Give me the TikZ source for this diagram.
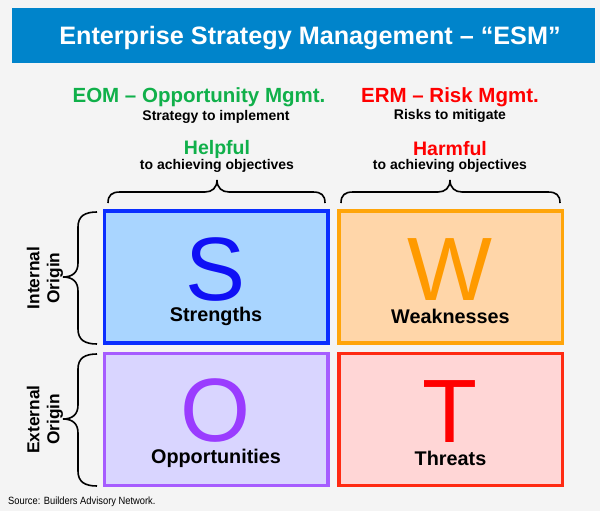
\documentclass[tikz,border=0pt]{standalone}
\usepackage{fontspec}
\setmainfont{Liberation Sans}
\definecolor{bgc}{HTML}{F4F4F4}
\definecolor{titleblue}{HTML}{0084CB}
\definecolor{eomgreen}{HTML}{10B04A}
\definecolor{ermred}{HTML}{FF0000}
\definecolor{sborder}{HTML}{0A2EFF}
\definecolor{sfill}{HTML}{A9D5FF}
\definecolor{sletter}{HTML}{1010F5}
\definecolor{wborder}{HTML}{FFA50A}
\definecolor{wfill}{HTML}{FFD6A9}
\definecolor{wletter}{HTML}{FF9A00}
\definecolor{oborder}{HTML}{A65CFF}
\definecolor{ofill}{HTML}{D9D5FF}
\definecolor{oletter}{HTML}{9A3CFF}
\definecolor{tborder}{HTML}{FF2A12}
\definecolor{tfill}{HTML}{FFD6D6}
\definecolor{tletter}{HTML}{FF0000}
\tikzset{
  quad/.style={line width=3.5pt, minimum width=223.5pt, minimum height=132pt, inner sep=0pt},
  bigletter/.style={font=\fontsize{90}{90}\selectfont, inner sep=0pt, anchor=base, text height=62pt, text depth=0pt},
  quadlabel/.style={font=\fontsize{19.8}{20}\selectfont\bfseries, text=black, inner sep=0pt},
  headline/.style={font=\fontsize{20.5}{22}\selectfont\bfseries, inner sep=0pt},
  subline/.style={font=\fontsize{14}{15}\selectfont\bfseries, text=black, inner sep=0pt},
  helpline/.style={font=\fontsize{19.5}{21}\selectfont\bfseries, inner sep=0pt},
  bracestyle/.style={line width=1.6pt, black},
  sidelabel/.style={font=\fontsize{17.3}{20}\selectfont\bfseries, align=center, rotate=90, inner sep=0pt}
}
\begin{document}
\begin{tikzpicture}[x=1pt,y=-1pt]
\useasboundingbox[fill=bgc] (0,0) rectangle (600,511);
% title bar
\node[fill=titleblue, minimum width=583pt, minimum height=55pt, inner sep=0pt, anchor=north west] (titlebar) at (12,8) {};
\node[text=white, font=\fontsize{25.2}{26}\selectfont\bfseries] (title) at (310,38) {Enterprise Strategy Management – “ESM”};
% headings
\node[headline, text=eomgreen] (eom) at (199,97) {EOM – Opportunity Mgmt.};
\node[subline] (eomsub) at (216,117) {Strategy to implement};
\node[headline, text=ermred] (erm) at (450,97) {ERM – Risk Mgmt.};
\node[subline] (ermsub) at (450,115.5) {Risks to mitigate};
\node[helpline, text=eomgreen] (helpful) at (217,149) {Helpful};
\node[subline] (helpsub) at (217,166) {to achieving objectives};
\node[helpline, text=ermred] (harmful) at (450,149) {Harmful};
\node[subline] (harmsub) at (450,166) {to achieving objectives};
% top braces
\draw[bracestyle] (108,203) .. controls (108,195) and (112,192) .. (120,192) -- (205,192)
  .. controls (212,192) and (217,188) .. (217,180)
  .. controls (217,188) and (222,192) .. (229,192) -- (313,192)
  .. controls (321,192) and (325,195) .. (325,203);
\draw[bracestyle] (341,203) .. controls (341,195) and (345,192) .. (353,192) -- (438,192)
  .. controls (445,192) and (450,188) .. (450,180)
  .. controls (450,188) and (455,192) .. (462,192) -- (548,192)
  .. controls (556,192) and (560,195) .. (560,203);
% quadrants
\node[quad, draw=sborder, fill=sfill] (S) at (216,277) {};
\node[quad, draw=wborder, fill=wfill] (W) at (450.5,277) {};
\node[quad, draw=oborder, fill=ofill] (O) at (216,419.5) {};
\node[quad, draw=tborder, fill=tfill] (T) at (450.5,419.5) {};
\node[bigletter, text=sletter] (Sl) at (216,300) {S};
\node[bigletter, text=wletter] (Wl) at (450,300) {W};
\node[bigletter, text=oletter] (Ol) at (216,441) {O};
\node[bigletter, text=tletter] (Tl) at (450,442) {T};
\node[quadlabel] (Sn) at (216,316) {Strengths};
\node[quadlabel] (Wn) at (450.5,316) {Weaknesses};
\node[quadlabel] (On) at (216,458) {Opportunities};
\node[quadlabel] (Tn) at (450.5,458) {Threats};
% side braces
\draw[bracestyle] (97,212) .. controls (85,212) and (78,216) .. (78,227) -- (78,263)
  .. controls (78,272) and (73,277) .. (63,277)
  .. controls (73,277) and (78,282) .. (78,291) -- (78,329)
  .. controls (78,340) and (85,344) .. (97,344);
\draw[bracestyle] (97,354) .. controls (85,354) and (78,358) .. (78,369) -- (78,405)
  .. controls (78,414) and (73,419) .. (63,419)
  .. controls (73,419) and (78,424) .. (78,433) -- (78,471)
  .. controls (78,482) and (85,486) .. (97,486);
\node[sidelabel] (internal) at (45,278) {Internal\\Origin};
\node[sidelabel] (external) at (45,419.5) {External\\Origin};
% source
\node[anchor=west, inner sep=0pt, font=\fontsize{10.5}{11}\selectfont] (source) at (8,502) {\scalebox{0.89}[1]{Source: Builders Advisory Network.}};
\end{tikzpicture}
\end{document}
